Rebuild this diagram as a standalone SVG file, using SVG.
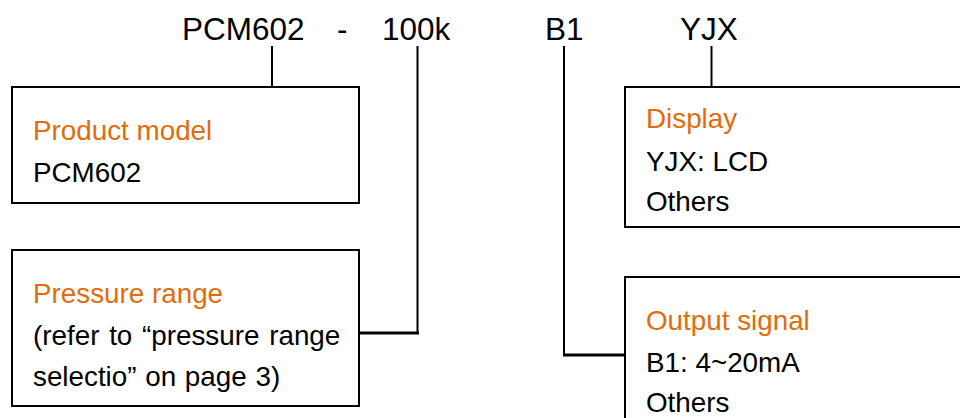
<svg xmlns="http://www.w3.org/2000/svg" width="960" height="418" viewBox="0 0 960 418">
<style>
  text { font-family: "Liberation Sans", Arial, sans-serif; fill: #000; }
  .code { font-size: 31.5px; }
  .body { font-size: 27.8px; }
  .title { fill: #E36C0A; }
  .box { fill: #fff; stroke: #000; stroke-width: 2; }
  .conn { fill: none; stroke: #000; stroke-width: 2; }
  .conn3 { fill: none; stroke: #000; stroke-width: 3; }
</style>
<rect width="960" height="418" fill="#fff"/>
<g id="codes">
  <text class="code" x="182" y="40">PCM602</text>
  <text class="code" x="337" y="40">-</text>
  <text class="code" x="382" y="40">100k</text>
  <text class="code" x="545" y="40">B1</text>
  <text class="code" x="680" y="40">YJX</text>
</g>
<g id="connectors">
  <path class="conn" d="M272 46 V87"/>
  <path class="conn" d="M417.5 46 V333"/>
  <path class="conn3" d="M359 333 H419"/>
  <path class="conn" d="M564 46 V355"/>
  <path class="conn3" d="M563 355 H625"/>
  <path class="conn" d="M711.5 46 V87"/>
</g>
<g id="product-model">
  <rect class="box" x="12" y="87" width="347" height="116"/>
  <text class="body title" x="33" y="140">Product model</text>
  <text class="body" x="33" y="182">PCM602</text>
</g>
<g id="pressure-range">
  <rect class="box" x="12" y="250" width="347" height="156"/>
  <text class="body title" x="33" y="303">Pressure range</text>
  <text class="body" x="33" y="345" word-spacing="2">(refer to “pressure range</text>
  <text class="body" x="33" y="386" word-spacing="1">selectio” on page 3)</text>
</g>
<g id="display">
  <rect class="box" x="625" y="87" width="345" height="140"/>
  <text class="body title" x="646" y="128">Display</text>
  <text class="body" x="646" y="170.5">YJX: LCD</text>
  <text class="body" x="646" y="211">Others</text>
</g>
<g id="output-signal">
  <rect class="box" x="625" y="277" width="345" height="160"/>
  <text class="body title" x="646" y="330">Output signal</text>
  <text class="body" x="646" y="371.5">B1: 4~20mA</text>
  <text class="body" x="646" y="412">Others</text>
</g>
</svg>
